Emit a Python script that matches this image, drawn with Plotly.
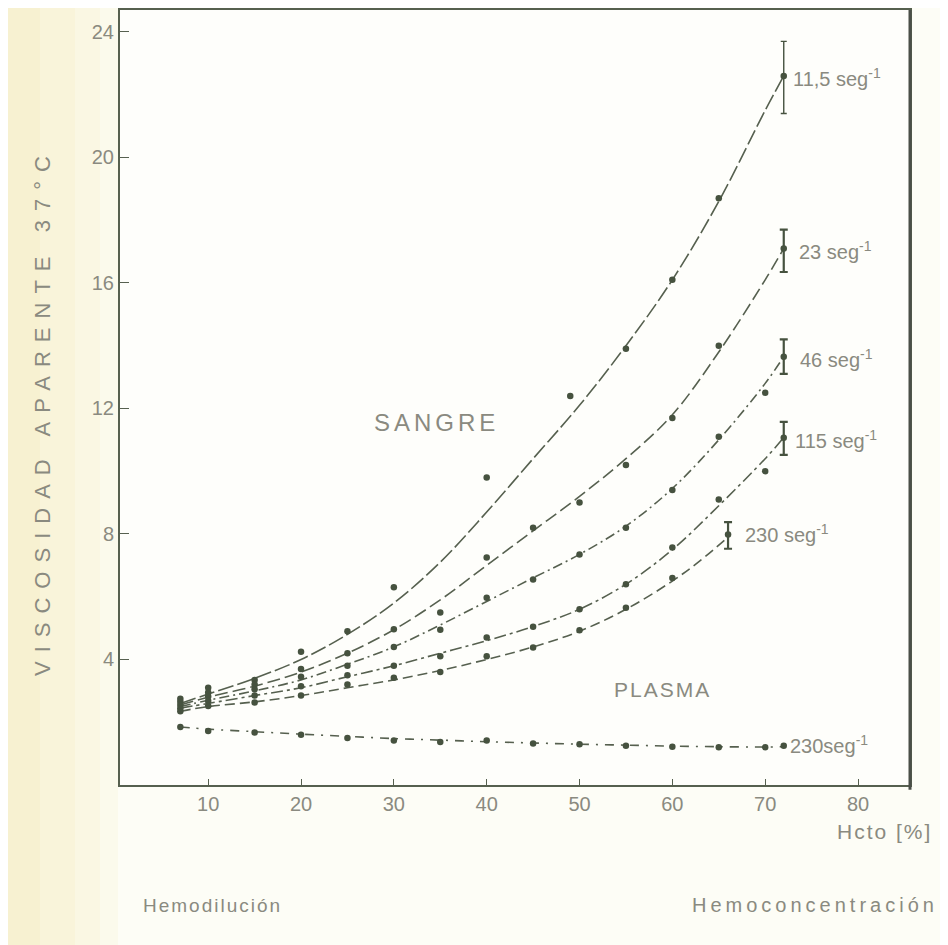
import plotly.graph_objects as go

# ---------------- data ----------------
# measured points (Hcto %, apparent viscosity) for each shear rate
hct_115s = [7, 10, 15, 20, 25, 30, 40, 49, 55, 60, 65]
vis_115s = [2.75, 3.1, 3.35, 4.25, 4.9, 6.3, 9.8, 12.4, 13.9, 16.1, 18.7]

hct_23s = [7, 10, 15, 20, 25, 30, 35, 40, 45, 50, 55, 60, 65]
vis_23s = [2.65, 2.95, 3.2, 3.7, 4.2, 4.96, 5.5, 7.25, 8.2, 9.0, 10.2, 11.7, 14.0]

hct_46s = [7, 10, 15, 20, 25, 30, 35, 40, 45, 50, 55, 60, 65, 70]
vis_46s = [2.55, 2.82, 3.05, 3.45, 3.8, 4.4, 4.95, 5.97, 6.55, 7.35, 8.2, 9.4, 11.1, 12.5]

hct_115 = [7, 10, 15, 20, 25, 30, 35, 40, 45, 50, 55, 60, 65, 70]
vis_115 = [2.45, 2.68, 2.85, 3.15, 3.5, 3.8, 4.1, 4.7, 5.04, 5.6, 6.4, 7.57, 9.1, 10.0]

hct_230 = [7, 10, 15, 20, 25, 30, 35, 40, 45, 50, 55, 60]
vis_230 = [2.35, 2.52, 2.63, 2.85, 3.2, 3.42, 3.6, 4.1, 4.38, 4.93, 5.65, 6.6]

hct_plasma = [7, 10, 15, 20, 25, 30, 35, 40, 45, 50, 55, 60, 65, 70, 72]
vis_plasma = [1.85, 1.72, 1.67, 1.6, 1.5, 1.42, 1.37, 1.42, 1.32, 1.3, 1.25, 1.22, 1.2, 1.2, 1.25]

# end points with their error bars (value, +err, -err)
end_hct = [72, 72, 72, 72, 66]
end_vis = [22.6, 17.1, 13.65, 11.07, 7.98]
end_err_up = [1.1, 0.6, 0.55, 0.5, 0.4]
end_err_dn = [1.2, 0.75, 0.55, 0.55, 0.45]

# fitted curves drawn through the data
fit_hct = [7, 10, 15, 20, 25, 30, 35, 40, 45, 50, 55, 60, 65, 70, 72]
fit_115s = [2.6, 2.9, 3.4, 4.0, 4.8, 5.8, 7.1, 8.7, 10.4, 12.1, 14.0, 16.1, 18.6, 21.5, 22.6]
fit_23s = [2.55, 2.8, 3.15, 3.6, 4.2, 4.95, 5.9, 7.0, 8.1, 9.2, 10.4, 11.8, 13.8, 16.1, 17.1]
fit_46s = [2.5, 2.7, 3.0, 3.35, 3.85, 4.4, 5.1, 5.85, 6.6, 7.35, 8.25, 9.45, 11.0, 12.8, 13.65]
fit_115 = [2.45, 2.6, 2.85, 3.1, 3.45, 3.8, 4.2, 4.6, 5.05, 5.6, 6.4, 7.5, 8.9, 10.4, 11.07]
fit_hct_230 = [7, 10, 15, 20, 25, 30, 35, 40, 45, 50, 55, 60, 63, 66]
fit_230 = [2.35, 2.5, 2.65, 2.85, 3.1, 3.35, 3.65, 4.0, 4.4, 4.9, 5.6, 6.5, 7.15, 7.9]
fit_plasma = [1.85, 1.78, 1.7, 1.62, 1.55, 1.48, 1.43, 1.38, 1.34, 1.3, 1.27, 1.24, 1.22, 1.21, 1.22]

labels = ["11,5 seg<sup>-1</sup>", "23 seg<sup>-1</sup>", "46 seg<sup>-1</sup>",
          "115 seg<sup>-1</sup>", "230 seg<sup>-1</sup>"]
label_x = [72.8, 73.4, 73.5, 73.0, 67.6]
label_y = [22.55, 17.05, 13.6, 11.0, 8.0]

x_ticks = [10, 20, 30, 40, 50, 60, 70, 80]
y_ticks = [4, 8, 12, 16, 20, 24]

# ---------------- styling ----------------
INK = "#46523f"
LINE = "#56604f"
TXT = "#8a8a80"
FONT = "Liberation Sans, Arial, sans-serif"

# the page body has an 8px margin: the figure is sized so the plot lands where it should
OFF = 8
W, H = 948 - OFF, 945 - OFF
PL, PR, PT, PB = 120, 910, 10, 785          # plot area in window pixels
PW, PH = PR - PL, PB - PT

fig = go.Figure()

curves = [
    (fit_hct, fit_115s, hct_115s, vis_115s, "16px,4px"),
    (fit_hct, fit_23s, hct_23s, vis_23s, "13px,5px"),
    (fit_hct, fit_46s, hct_46s, vis_46s, "10px,4px,2px,4px"),
    (fit_hct, fit_115, hct_115, vis_115, "12px,4px,3px,4px"),
    (fit_hct_230, fit_230, hct_230, vis_230, "10px,5px"),
    (fit_hct, fit_plasma, hct_plasma, vis_plasma, "9px,7px,2px,7px"),
]

for fx, fy, px, py, dash in curves:
    fig.add_trace(go.Scatter(x=fx, y=fy, mode="lines", line=dict(color=LINE, width=1.6, dash=dash, shape="spline"),
                             hoverinfo="skip", showlegend=False))
    fig.add_trace(go.Scatter(x=px, y=py, mode="markers", marker=dict(color=INK, size=6.5),
                             showlegend=False))

# first end point has a thin error bar, the others a heavier one
fig.add_trace(go.Scatter(
    x=end_hct[:1], y=end_vis[:1], mode="markers", marker=dict(color=INK, size=6.5),
    error_y=dict(type="data", symmetric=False, array=end_err_up[:1], arrayminus=end_err_dn[:1],
                 color=INK, thickness=1.4, width=3),
    showlegend=False))
fig.add_trace(go.Scatter(
    x=end_hct[1:], y=end_vis[1:], mode="markers", marker=dict(color=INK, size=6.5),
    error_y=dict(type="data", symmetric=False, array=end_err_up[1:], arrayminus=end_err_dn[1:],
                 color=INK, thickness=2.2, width=4),
    showlegend=False))


def px_x(x):
    return (x - PL) / PW


def px_y(y):
    return (PB - y) / PH


annotations = []
for t, x, y in zip(labels, label_x, label_y):
    annotations.append(dict(x=x, y=y, xref="x", yref="y", text=t, showarrow=False,
                            xanchor="left", yanchor="middle",
                            font=dict(family=FONT, size=20, color=TXT)))

annotations += [
    dict(x=72.5, y=1.3, xref="x", yref="y", text="230seg<sup>-1</sup>", showarrow=False,
         xanchor="left", yanchor="middle", font=dict(family=FONT, size=20, color=TXT)),
    dict(x=34.6, y=11.55, xref="x", yref="y",
         text='<span style="letter-spacing:4px">SANGRE</span>', showarrow=False,
         font=dict(family=FONT, size=24, color=TXT)),
    dict(x=58.9, y=3.05, xref="x", yref="y",
         text='<span style="letter-spacing:2px">PLASMA</span>', showarrow=False,
         font=dict(family=FONT, size=21, color=TXT)),
    dict(x=px_x(934), y=px_y(832), xref="paper", yref="paper",
         text='<span style="letter-spacing:2px">Hcto [%]</span>', showarrow=False,
         xanchor="right", yanchor="middle", font=dict(family=FONT, size=21, color=TXT)),
    dict(x=px_x(212), y=px_y(905), xref="paper", yref="paper",
         text='<span style="letter-spacing:2px">Hemodilución</span>', showarrow=False,
         xanchor="center", yanchor="middle", font=dict(family=FONT, size=19, color=TXT)),
    dict(x=px_x(815), y=px_y(905), xref="paper", yref="paper",
         text='<span style="letter-spacing:4px">Hemoconcentración</span>', showarrow=False,
         xanchor="center", yanchor="middle", font=dict(family=FONT, size=20, color=TXT)),
    dict(x=px_x(42), y=px_y(412), xref="paper", yref="paper",
         text='<span style="letter-spacing:9px">VISCOSIDAD APARENTE 37°C</span>',
         showarrow=False, textangle=-90, xanchor="center", yanchor="middle",
         font=dict(family=FONT, size=22, color=TXT)),
]

# faint yellowish tint on the left margin of the scan
shapes = []
tints = [(0, 40, "rgba(243,232,178,0.55)"), (40, 75, "rgba(243,232,178,0.42)"),
         (75, 100, "rgba(243,232,178,0.28)"), (100, 118, "rgba(243,232,178,0.15)")]
for a, b, c in tints:
    shapes.append(dict(type="rect", xref="paper", yref="paper", layer="below",
                       x0=px_x(a), x1=px_x(b), y0=px_y(945), y1=px_y(0),
                       fillcolor=c, line=dict(width=0)))
shapes.append(dict(type="line", xref="paper", yref="paper", x0=1, x1=1, y0=-0.006, y1=1,
                   line=dict(color="#4a4f48", width=3)))

fig.update_layout(
    width=W, height=H,
    margin=dict(l=PL - OFF, r=948 - PR, t=PT - OFF, b=945 - PB, autoexpand=False),
    paper_bgcolor="#fdfdf6", plot_bgcolor="#fefefb",
    annotations=annotations, shapes=shapes,
    font=dict(family=FONT, color=TXT),
)
fig.update_xaxes(range=[0.5, 85.6], tickvals=x_ticks, ticks="inside", ticklen=6, tickcolor=LINE,
                 showline=True, linecolor=LINE, linewidth=1.5, mirror=True, showgrid=False,
                 zeroline=False, automargin=False, tickfont=dict(family=FONT, size=20, color=TXT))
fig.update_yaxes(range=[0, 24.7], tickvals=y_ticks, ticks="inside", ticklen=9, tickcolor=LINE,
                 showline=True, linecolor=LINE, linewidth=2, mirror=True, showgrid=False,
                 zeroline=False, automargin=False, tickfont=dict(family=FONT, size=20, color=TXT),
                 ticklabelstandoff=0)

fig.write_html("out.html")
